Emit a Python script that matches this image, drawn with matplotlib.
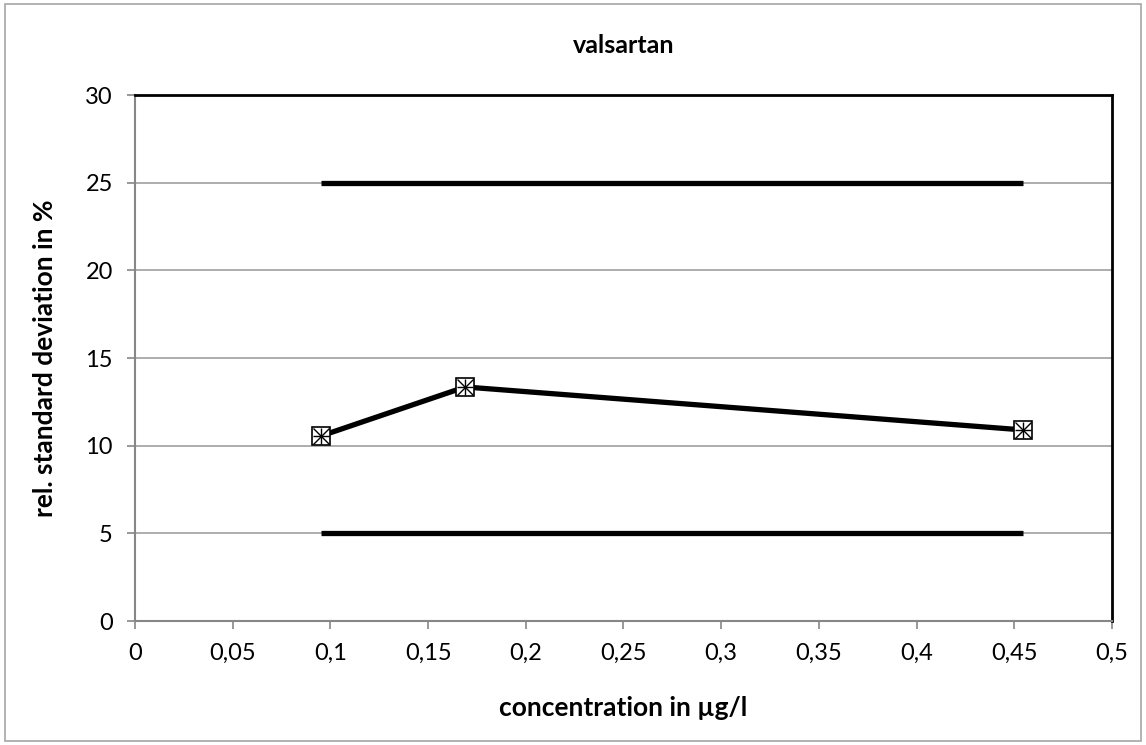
import matplotlib
matplotlib.use("Agg")
import matplotlib.pyplot as plt
from matplotlib.ticker import FuncFormatter, MultipleLocator
from matplotlib.patches import Rectangle

plt.rcParams['font.family'] = ['Lato', 'DejaVu Sans']

# ── data ──────────────────────────────────────────────────────────────────────
conc = [0.095, 0.169, 0.4545]
rsd = [10.55, 13.35, 10.9]
limit_x = [0.095, 0.4545]
upper_limit = [25, 25]
lower_limit = [5, 5]

# ── figure ────────────────────────────────────────────────────────────────────
fig = plt.figure(figsize=(11.46, 7.45), dpi=100)
fig.patches.append(Rectangle((0.004, 0.006), 0.992, 0.988, transform=fig.transFigure,
                             fill=False, edgecolor='#a6a6a6', lw=1.2))
ax = fig.add_axes([0.1178, 0.1664, 0.8525, 0.706])

ax.plot(limit_x, upper_limit, color='black', lw=3.8, solid_capstyle='butt', zorder=3)
ax.plot(limit_x, lower_limit, color='black', lw=3.8, solid_capstyle='butt', zorder=3)
ax.plot(conc, rsd, color='black', lw=3.8, zorder=3)
ax.plot(conc, rsd, ls='none', marker='s', ms=13, mfc='white', mec='black', mew=1.2, zorder=4)
ax.plot(conc, rsd, ls='none', marker='x', ms=12, mec='black', mew=1.0, zorder=5)
ax.plot(conc, rsd, ls='none', marker='+', ms=12, mec='black', mew=1.0, zorder=5)

ax.set_xlim(0, 0.5)
ax.set_ylim(0, 30)
ax.xaxis.set_major_locator(MultipleLocator(0.05))
ax.yaxis.set_major_locator(MultipleLocator(5))
ax.xaxis.set_major_formatter(FuncFormatter(lambda v, p: f"{v:.2f}".rstrip('0').rstrip('.').replace('.', ',')))
ax.yaxis.set_major_formatter(FuncFormatter(lambda v, p: f"{v:.0f}"))
ax.yaxis.grid(True, color='#a0a0a0', lw=1.2)
ax.set_axisbelow(True)

ax.tick_params(direction='out', length=6, width=1.2, color='#868686',
               labelsize=17, pad=10)
for side in ['top', 'right']:
    ax.spines[side].set_color('black')
    ax.spines[side].set_linewidth(2)
for side in ['left', 'bottom']:
    ax.spines[side].set_color('#868686')
    ax.spines[side].set_linewidth(1.5)

ax.set_title('valsartan', fontsize=18, fontweight='bold', pad=30)
ax.set_xlabel('concentration in µg/l', fontsize=19, fontweight='bold', labelpad=23)
ax.set_ylabel('rel. standard deviation in %', fontsize=19, fontweight='bold', labelpad=20)

plt.savefig('out.png', dpi=100, facecolor='white')
